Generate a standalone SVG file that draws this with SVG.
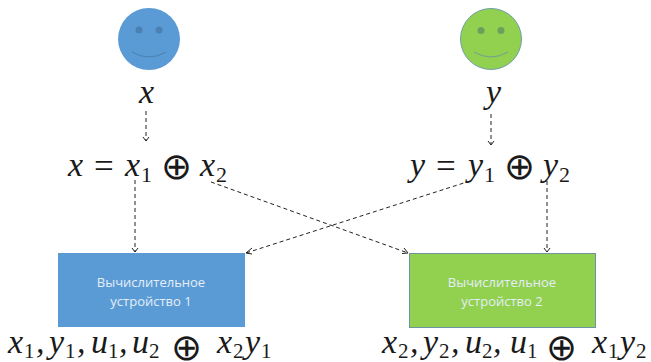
<svg xmlns="http://www.w3.org/2000/svg" width="651" height="362" viewBox="0 0 651 362">
<style>
.m{font-family:"Liberation Serif",serif;font-style:italic;font-size:34px;fill:#1a1a1a}
.s{font-family:"Liberation Serif",serif;font-size:22px;fill:#1a1a1a}
.b{font-family:"Liberation Serif",serif;font-size:21px;fill:#1a1a1a}
.o{font-family:"DejaVu Sans",sans-serif;font-size:37px;fill:#1a1a1a}
.e{font-family:"Liberation Serif",serif;font-size:35px;fill:#1a1a1a}
.t{font-family:"Open Sans","Liberation Sans",sans-serif;font-size:13px;fill:#e4eef8;text-anchor:middle}
.c{fill:none;stroke:#222;stroke-width:1;stroke-dasharray:4 3}
.h{fill:none;stroke:#222;stroke-width:1}
</style>
<rect width="651" height="362" fill="#fff"/>
<g id="face-x">
<circle cx="149" cy="39" r="31" fill="#5b9bd5"/>
<circle cx="139" cy="30" r="3.500" fill="#4a80b2"/><circle cx="159" cy="30" r="3.500" fill="#4a80b2"/>
<path d="M132 52Q149 62 166 52" fill="none" stroke="#4a80b2"/>
<text class="m" x="139" y="103">x</text>
</g>
<g id="face-y">
<circle cx="491" cy="39" r="30.500" fill="#92d050" stroke="#6fa0a8"/>
<circle cx="481" cy="30.500" r="3.500" fill="#6d9f5c"/><circle cx="501" cy="30.500" r="3.500" fill="#6d9f5c"/>
<path d="M474 52Q491 62 508 52" fill="none" stroke="#6f9f90"/>
<text class="m" x="486" y="103">y</text>
</g>
<g id="eq-x">
<text class="m" x="68" y="176">x</text><text class="e" x="94" y="178">=</text>
<text class="m" x="125" y="176">x</text><text class="s" x="141" y="182">1</text>
<text class="o" x="161" y="179">⊕</text>
<text class="m" x="200" y="176">x</text><text class="s" x="216" y="182">2</text>
</g>
<g id="eq-y">
<text class="m" x="410" y="176">y</text><text class="e" x="436" y="178">=</text>
<text class="m" x="468" y="176">y</text><text class="s" x="484" y="182">1</text>
<text class="o" x="504" y="179">⊕</text>
<text class="m" x="543" y="176">y</text><text class="s" x="559" y="182">2</text>
</g>
<g id="device-1">
<rect x="58" y="253" width="187" height="74" fill="#5b9bd5"/>
<text class="t" x="151" y="287">Вычислительное</text>
<text class="t" x="151" y="306">устройство 1</text>
</g>
<g id="device-2">
<rect x="409.500" y="253.500" width="186" height="74" fill="#92d050" stroke="#6f93a0"/>
<text class="t" x="502" y="287">Вычислительное</text>
<text class="t" x="502" y="306">устройство 2</text>
</g>
<g id="state-1">
<text class="m" x="8" y="353">x</text><text class="b" x="24" y="357.500">1</text><text class="m" x="36" y="353">,</text>
<text class="m" x="49" y="353">y</text><text class="b" x="65" y="357.500">1</text><text class="m" x="77" y="353">,</text>
<text class="m" x="91" y="353">u</text><text class="b" x="108" y="357.500">1</text><text class="m" x="119" y="353">,</text>
<text class="m" x="132" y="353">u</text><text class="b" x="149" y="357.500">2</text>
<text class="o" x="171" y="360">⊕</text>
<text class="m" x="217" y="353">x</text><text class="b" x="233" y="357.500">2</text>
<text class="m" x="245" y="353">y</text><text class="b" x="261" y="357.500">1</text>
</g>
<g id="state-2">
<text class="m" x="382" y="353">x</text><text class="b" x="398" y="357.500">2</text><text class="m" x="410" y="353">,</text>
<text class="m" x="423" y="353">y</text><text class="b" x="439" y="357.500">2</text><text class="m" x="451" y="353">,</text>
<text class="m" x="465" y="353">u</text><text class="b" x="482" y="357.500">2</text><text class="m" x="493" y="353">,</text>
<text class="m" x="510" y="353">u</text><text class="b" x="527" y="357.500">1</text>
<text class="o" x="546" y="360">⊕</text>
<text class="m" x="592" y="353">x</text><text class="b" x="608" y="357.500">1</text>
<text class="m" x="620" y="353">y</text><text class="b" x="636" y="357.500">2</text>
</g>
<g id="connectors">
<path class="c" d="M146 111V141"/><path class="h" d="M143 137L146 141L149 137"/>
<path class="c" d="M491 114V145"/><path class="h" d="M488 141L491 145L494 141"/>
<path class="c" d="M135 180V252"/><path class="h" d="M132 248L135 252L138 248"/>
<path class="c" d="M547 181V252"/><path class="h" d="M544 248L547 252L550 248"/>
<path class="c" d="M211 182L408 253"/><path class="h" d="M404 248L408 253L402 253.500"/>
<path class="c" d="M470 181L246 253"/><path class="h" d="M252 248L246 253L252 254"/>
</g>
</svg>
